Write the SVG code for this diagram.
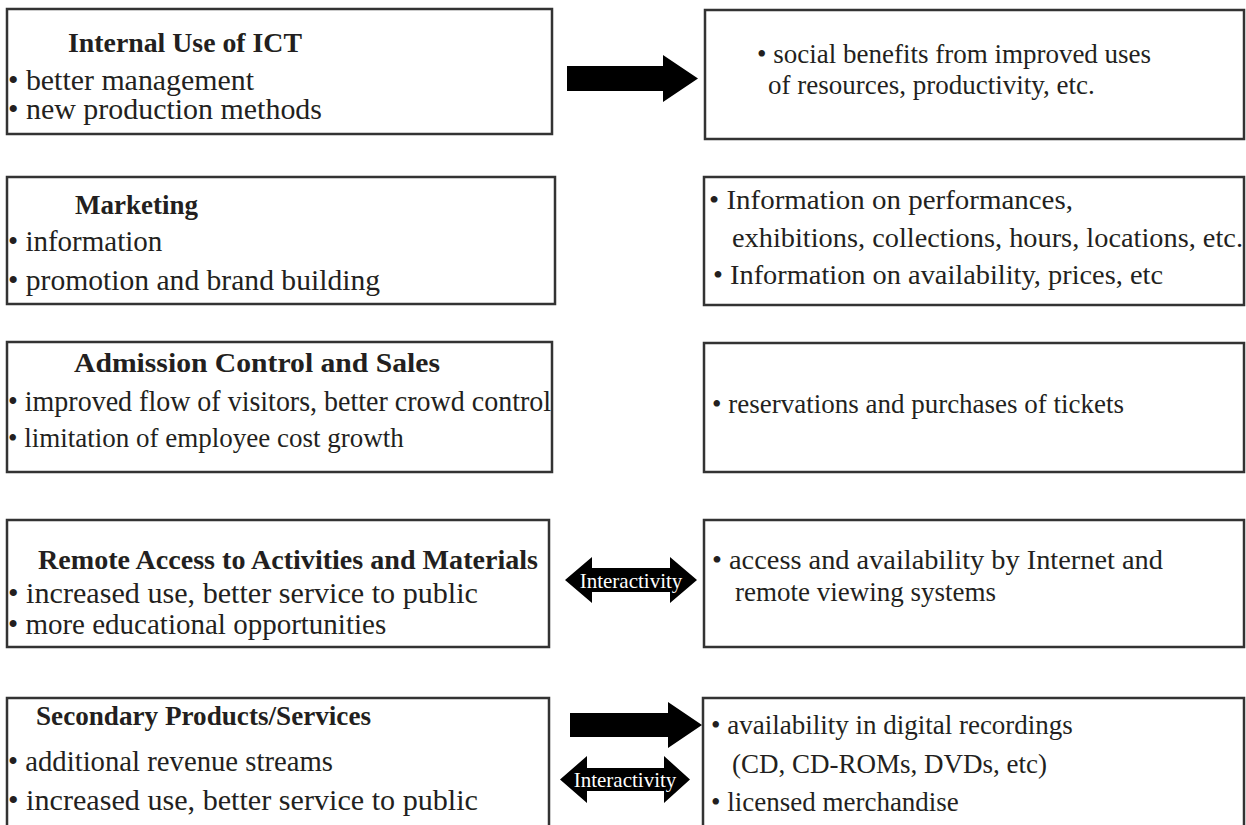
<svg xmlns="http://www.w3.org/2000/svg" width="1246" height="825" viewBox="0 0 1246 825">
<style>
.box{fill:#fff;stroke:#333;stroke-width:2.5}
.t{font-family:"Liberation Serif","Times New Roman",serif;font-size:27px;fill:#231f20}
.l{font-size:29px}
.b{font-weight:bold;font-size:27px}
.arr{fill:#000}
.ia{font-family:"Liberation Serif","Times New Roman",serif;font-size:21px;fill:#fff;text-anchor:middle}
</style>
<rect width="1246" height="825" fill="#fff"/>
<g id="internal-use">
<rect class="box" x="7" y="9" width="545" height="125"/>
<text class="t b" x="68" y="52" textLength="234" lengthAdjust="spacingAndGlyphs">Internal Use of ICT</text>
<text class="t l" x="8" y="90" textLength="246" lengthAdjust="spacingAndGlyphs">• better management</text>
<text class="t l" x="8" y="119" textLength="314" lengthAdjust="spacingAndGlyphs">• new production methods</text>
</g>
<g id="social-benefits">
<rect class="box" x="705" y="10" width="539" height="129"/>
<text class="t" x="757" y="63">• social benefits from improved uses</text>
<text class="t" x="768" y="94">of resources, productivity, etc.</text>
</g>
<g id="marketing">
<rect class="box" x="7" y="177" width="548" height="127"/>
<text class="t b" x="75" y="214">Marketing</text>
<text class="t l" x="8" y="251">• information</text>
<text class="t l" x="8" y="290" textLength="372" lengthAdjust="spacingAndGlyphs">• promotion and brand building</text>
</g>
<g id="information">
<rect class="box" x="704" y="177" width="540" height="128"/>
<text class="t" x="709" y="209" textLength="364" lengthAdjust="spacingAndGlyphs">• Information on performances,</text>
<text class="t" x="732" y="247" textLength="511" lengthAdjust="spacingAndGlyphs">exhibitions, collections, hours, locations, etc.</text>
<text class="t" x="713" y="284" textLength="450" lengthAdjust="spacingAndGlyphs">• Information on availability, prices, etc</text>
</g>
<g id="admission">
<rect class="box" x="7" y="342" width="545" height="130"/>
<text class="t b" x="74" y="372" textLength="366" lengthAdjust="spacingAndGlyphs">Admission Control and Sales</text>
<text class="t l" x="8" y="411" textLength="543" lengthAdjust="spacingAndGlyphs">• improved flow of visitors, better crowd control</text>
<text class="t" x="8" y="447">• limitation of employee cost growth</text>
</g>
<g id="reservations">
<rect class="box" x="704" y="343" width="540" height="129"/>
<text class="t" x="712" y="413">• reservations and purchases of tickets</text>
</g>
<g id="remote-access">
<rect class="box" x="7" y="520" width="542" height="127"/>
<text class="t b" x="38" y="569" textLength="500" lengthAdjust="spacingAndGlyphs">Remote Access to Activities and Materials</text>
<text class="t l" x="8" y="603" textLength="470" lengthAdjust="spacingAndGlyphs">• increased use, better service to public</text>
<text class="t l" x="8" y="634">• more educational opportunities</text>
</g>
<g id="remote-availability">
<rect class="box" x="704" y="520" width="540" height="127"/>
<text class="t" x="712" y="569" textLength="451" lengthAdjust="spacingAndGlyphs">• access and availability by Internet and</text>
<text class="t" x="735" y="601">remote viewing systems</text>
</g>
<g id="secondary">
<rect class="box" x="7" y="698" width="542" height="140"/>
<text class="t b" x="36" y="725" textLength="335" lengthAdjust="spacingAndGlyphs">Secondary Products/Services</text>
<text class="t l" x="8" y="771" textLength="325" lengthAdjust="spacingAndGlyphs">• additional revenue streams</text>
<text class="t l" x="8" y="810" textLength="470" lengthAdjust="spacingAndGlyphs">• increased use, better service to public</text>
</g>
<g id="digital">
<rect class="box" x="703" y="698" width="541" height="140"/>
<text class="t" x="711" y="734">• availability in digital recordings</text>
<text class="t" x="732" y="773">(CD, CD-ROMs, DVDs, etc)</text>
<text class="t" x="711" y="811">• licensed merchandise</text>
</g>
<g id="connectors">
<polygon class="arr" points="567,66 663,66 663,55 698,78.5 663,102 663,91 567,91"/>
<polygon class="arr" points="565,580 592,557 592,568 670,568 670,557 697,580 670,603 670,592 592,592 592,603"/>
<text class="ia" x="631" y="588">Interactivity</text>
<polygon class="arr" points="570,713 668,713 668,702 702,725 668,748 668,737 570,737"/>
<polygon class="arr" points="560,779.5 587,756 587,768 664,768 664,756 690,779.5 664,803 664,791 587,791 587,803"/>
<text class="ia" x="625" y="787">Interactivity</text>
</g>
</svg>
